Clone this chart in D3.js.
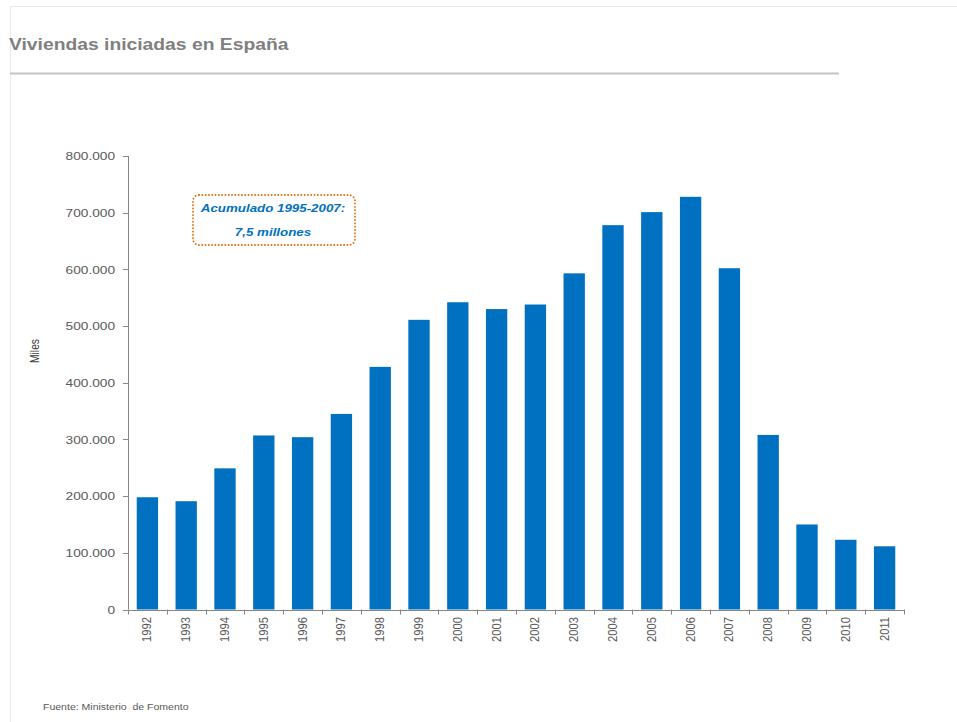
<!DOCTYPE html>
<html>
<head>
<meta charset="utf-8">
<script src="https://cdn.jsdelivr.net/npm/d3@7"></script>
<style>
  html, body { margin: 0; padding: 0; background: #fff; }
  svg { display: block; }
  text { font-family: "Liberation Sans", Arial, sans-serif; }
</style>
</head>
<body>
<svg id="chart" width="957" height="722"></svg>
<script>
// Viviendas iniciadas por año (unidades)
const years = ["1992","1993","1994","1995","1996","1997","1998","1999","2000","2001",
               "2002","2003","2004","2005","2006","2007","2008","2009","2010","2011"];
const viviendas = [198000, 191000, 249000, 307000, 304000, 345000, 428000, 511000, 542000, 530000,
                   538000, 593000, 678000, 701000, 728000, 602000, 308000, 150000, 123000, 111500];
const yTicks = [0, 100000, 200000, 300000, 400000, 500000, 600000, 700000, 800000];
const title = "Viviendas iniciadas en España";
const yLabel = "Miles";
const note = ["Acumulado 1995-2007:", "7,5 millones"];
const source = "Fuente: Ministerio\u00a0 de Fomento";

const svg = d3.select("#chart");
const SX = 1.17; // horizontal glyph stretch of the text

const blue = "#0070c0";
const grey = "#595959";
const axisGrey = "#868686";

// page frame
svg.append("line").attr("x1", 10).attr("x2", 957).attr("y1", 6.5).attr("y2", 6.5)
  .attr("stroke", "#e3ebf5").attr("stroke-width", 1);
svg.append("line").attr("x1", 10.5).attr("x2", 10.5).attr("y1", 6).attr("y2", 722)
  .attr("stroke", "#e3ebf5").attr("stroke-width", 1);

// title + separator
svg.append("text")
  .attr("transform", `translate(9,50) scale(${SX},1)`)
  .attr("font-size", 16.5).attr("font-weight", "bold").attr("fill", "#7f7f7f")
  .text(title);
svg.append("line").attr("x1", 10).attr("x2", 839).attr("y1", 73.5).attr("y2", 73.5)
  .attr("stroke", "#c4c4c4").attr("stroke-width", 2);

// scales
const x = d3.scaleBand().domain(years).range([128, 904])
  .paddingInner(0.45).paddingOuter(0.225);
const y = d3.scaleLinear().domain([0, 800000]).range([609.5, 156]);

// bars
svg.append("g").selectAll("rect").data(years).join("rect")
  .attr("x", d => x(d))
  .attr("width", x.bandwidth())
  .attr("y", (d, i) => y(viviendas[i]))
  .attr("height", (d, i) => y(0) - y(viviendas[i]))
  .attr("fill", blue);

// y axis
const yAxis = svg.append("g");
yAxis.append("line").attr("x1", 128.5).attr("x2", 128.5)
  .attr("y1", y(800000)).attr("y2", y(0)).attr("stroke", axisGrey);
yAxis.selectAll("line.tick").data(yTicks).join("line").attr("class", "tick")
  .attr("x1", 123).attr("x2", 128.5)
  .attr("y1", d => Math.round(y(d)) + 0.5).attr("y2", d => Math.round(y(d)) + 0.5)
  .attr("stroke", axisGrey);
yAxis.selectAll("text").data(yTicks).join("text")
  .attr("transform", d => `translate(115,${y(d) + 4.3}) scale(${SX},1)`)
  .attr("text-anchor", "end").attr("font-size", 11.7).attr("fill", grey)
  .text(d => d3.format(",")(d).replace(/,/g, "."));

// x axis
const step = x.step();
const x0 = x.range()[0];
const xAxis = svg.append("g");
xAxis.append("line").attr("x1", 128).attr("x2", 904)
  .attr("y1", Math.round(y(0)) + 0.5).attr("y2", Math.round(y(0)) + 0.5).attr("stroke", axisGrey);
xAxis.selectAll("line.tick").data(d3.range(years.length + 1)).join("line").attr("class", "tick")
  .attr("x1", i => Math.round(x0 + i * step) + 0.5).attr("x2", i => Math.round(x0 + i * step) + 0.5)
  .attr("y1", y(0)).attr("y2", y(0) + 5)
  .attr("stroke", axisGrey);
xAxis.selectAll("text").data(years).join("text")
  .attr("transform", d => `translate(${x(d) + x.bandwidth() / 2 + 4},617) scale(${SX},1) rotate(-90)`)
  .attr("text-anchor", "end").attr("font-size", 11.2).attr("fill", grey)
  .text(d => d);

// y axis title
svg.append("text")
  .attr("transform", `translate(39,351) scale(${SX},1) rotate(-90)`)
  .attr("text-anchor", "middle").attr("font-size", 10.3).attr("fill", "#404040")
  .text(yLabel);

// annotation
svg.append("rect")
  .attr("x", 193).attr("y", 195).attr("width", 162).attr("height", 50)
  .attr("rx", 6).attr("ry", 6)
  .attr("fill", "none").attr("stroke", "#e46c0a").attr("stroke-width", 1.8)
  .attr("stroke-dasharray", "0.1 3.2").attr("stroke-linecap", "round");
svg.append("text")
  .attr("transform", `translate(273,212) scale(${SX},1)`)
  .attr("text-anchor", "middle").attr("font-size", 11.4)
  .attr("font-weight", "bold").attr("font-style", "italic").attr("fill", blue)
  .text(note[0]);
svg.append("text")
  .attr("transform", `translate(273,236) scale(${SX},1)`)
  .attr("text-anchor", "middle").attr("font-size", 11.4)
  .attr("font-weight", "bold").attr("font-style", "italic").attr("fill", blue)
  .text(note[1]);

// source
svg.append("text")
  .attr("transform", `translate(43,710) scale(${SX},1)`)
  .attr("font-size", 9).attr("fill", grey)
  .text(source);
</script>
</body>
</html>
